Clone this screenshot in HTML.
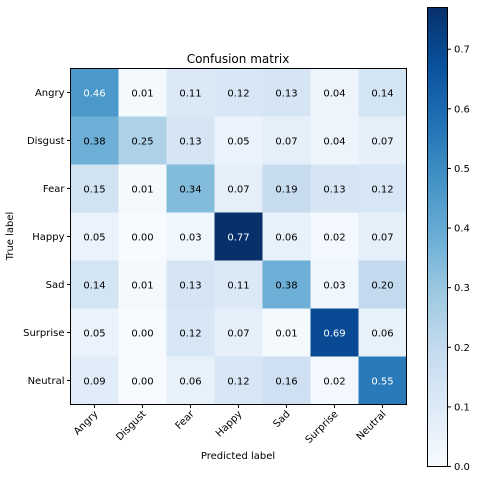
<!DOCTYPE html>
<html><head><meta charset="utf-8"><style>
body{margin:0;background:#fff;}
svg{display:block;font-family:"DejaVu Sans","Liberation Sans",sans-serif;}
</style></head><body>
<svg id="chart" width="479" height="479" viewBox="0 0 479 479">
<defs>
<linearGradient id="cbg" x1="0" y1="1" x2="0" y2="0">
<stop offset="0" stop-color="#f7fbff"/><stop offset="0.125" stop-color="#deebf7"/><stop offset="0.25" stop-color="#c6dbef"/><stop offset="0.375" stop-color="#9ecae1"/><stop offset="0.5" stop-color="#6baed6"/><stop offset="0.625" stop-color="#4292c6"/><stop offset="0.75" stop-color="#2171b5"/><stop offset="0.875" stop-color="#08519c"/><stop offset="1" stop-color="#08306b"/>
</linearGradient>
</defs>
<text x="238" y="63" font-size="12" text-anchor="middle">Confusion matrix</text>
<g id="cells"></g>
<rect x="70.5" y="68.5" width="336" height="336" fill="none" stroke="#000" stroke-width="1"/>
<g id="axes"></g>
<text x="238" y="459" font-size="10" text-anchor="middle">Predicted label</text>
<text transform="translate(13,236) rotate(-90)" font-size="10" text-anchor="middle">True label</text>
<rect x="427.5" y="7.5" width="20" height="459" fill="url(#cbg)" stroke="#000" stroke-width="1"/>
<g id="cbticks"></g>
</svg>
<script>
const labels = ["Angry","Disgust","Fear","Happy","Sad","Surprise","Neutral"];
const row0 = [0.46,0.01,0.11,0.12,0.13,0.04,0.14];
const row1 = [0.38,0.25,0.13,0.05,0.07,0.04,0.07];
const row2 = [0.15,0.01,0.34,0.07,0.19,0.13,0.12];
const row3 = [0.05,0.00,0.03,0.77,0.06,0.02,0.07];
const row4 = [0.14,0.01,0.13,0.11,0.38,0.03,0.20];
const row5 = [0.05,0.00,0.12,0.07,0.01,0.69,0.06];
const row6 = [0.09,0.00,0.06,0.12,0.16,0.02,0.55];
const cbTicks = [0,0.1,0.2,0.3,0.4,0.5,0.6,0.7];
const rows=[row0,row1,row2,row3,row4,row5,row6];
const NS="http://www.w3.org/2000/svg";
const X0=70.5,Y0=68.5,C=48;
const vmax=Math.max(...rows.flat());
const stops=["#f7fbff","#deebf7","#c6dbef","#9ecae1","#6baed6","#4292c6","#2171b5","#08519c","#08306b"].map(h=>[1,3,5].map(i=>parseInt(h.substr(i,2),16)));
function color(v){let t=Math.max(0,Math.min(1,v/vmax))*8;let i=Math.min(7,Math.floor(t));let f=t-i;
const c=stops[i].map((a,k)=>Math.round(a+(stops[i+1][k]-a)*f));return `rgb(${c})`;}
function xS(j){return X0+j*C;}
function yS(i){return Y0+i*C;}
function cbY(v){return 466.5-v/vmax*459;}
function mk(tag,attrs,parent){const e=document.createElementNS(NS,tag);for(const k in attrs)e.setAttribute(k,attrs[k]);parent.appendChild(e);return e;}
const cells=document.getElementById('cells');
rows.forEach((r,i)=>r.forEach((v,j)=>{
 const rc=mk('rect',{x:xS(j),y:yS(i),width:C,height:C,fill:color(v)},cells);
 
 
 const t=mk('text',{x:xS(j)+C/2,y:yS(i)+C/2+4,'font-size':10,'text-anchor':'middle',fill:v>vmax/2?'#fff':'#000'},cells);
 t.textContent=v.toFixed(2);
 
 
}));
const ax=document.getElementById('axes');
labels.forEach((l,k)=>{
 const cy=yS(k)+C/2;
 mk('line',{x1:X0-3.5,x2:X0,y1:cy,y2:cy,stroke:'#000'},ax);
 const t=mk('text',{x:X0-6,y:cy+3.5,'font-size':10,'text-anchor':'end'},ax);t.textContent=l;
 
 
 const cx=xS(k)+C/2;
 mk('line',{x1:cx,x2:cx,y1:Y0+336,y2:Y0+339.5,stroke:'#000'},ax);
 const u=mk('text',{transform:`translate(${cx+4},${Y0+346}) rotate(-45)`,'font-size':10,'text-anchor':'end'},ax);u.textContent=l;
 
 
});
const cb=document.getElementById('cbticks');
cbTicks.forEach(v=>{const y=cbY(v);
 mk('line',{x1:447.5,x2:451,y1:y,y2:y,stroke:'#000'},cb);
 const t=mk('text',{x:454,y:y+3.5,'font-size':10},cb);t.textContent=v.toFixed(1);
 
 
});
</script>
</body></html>
